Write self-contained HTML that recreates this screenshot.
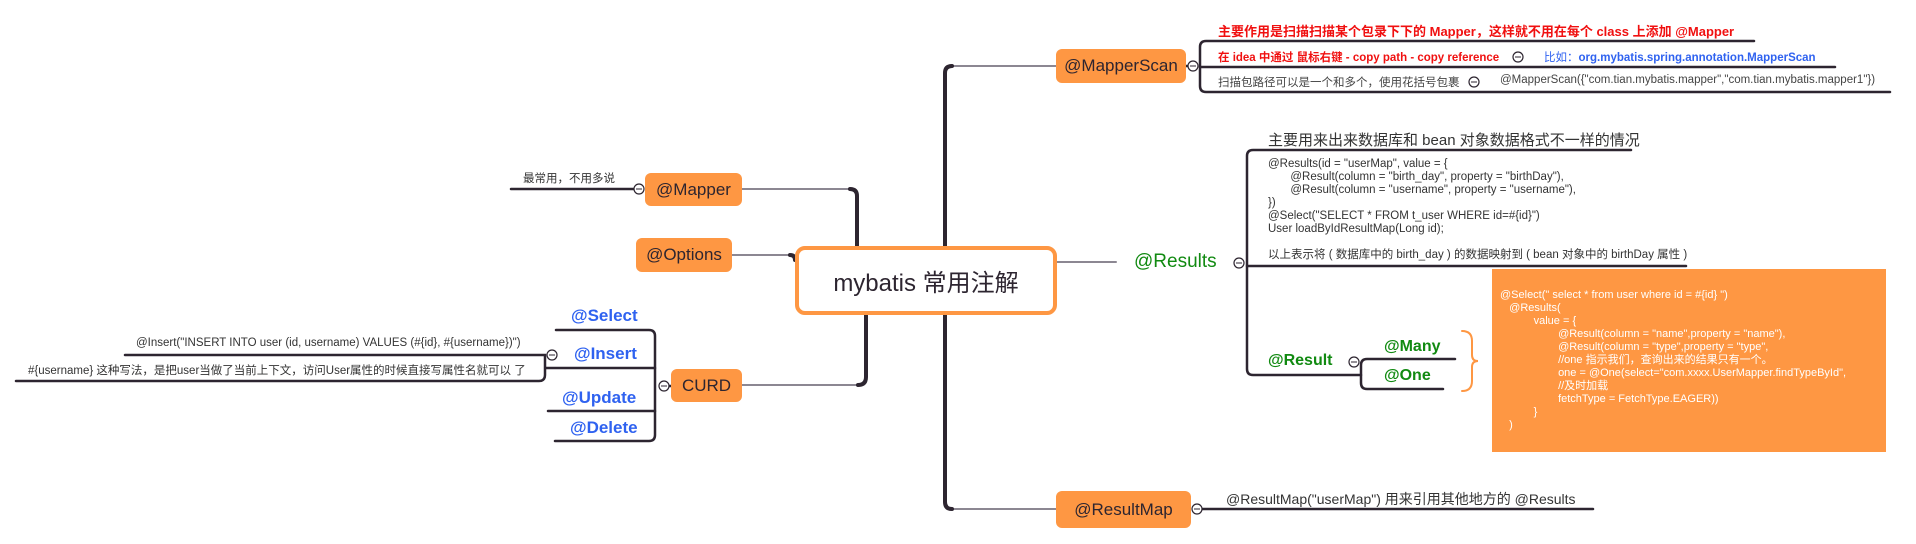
<!DOCTYPE html>
<html><head><meta charset="utf-8"><style>
body{margin:0;width:1916px;height:544px;background:#fff;position:relative;overflow:hidden;font-family:"Liberation Sans","Noto Sans CJK SC",sans-serif;color:#333}
.t{position:absolute;white-space:nowrap}
.box{position:absolute;background:#fe9743;border-radius:6px;color:#2d2530;font-size:17px;display:flex;align-items:center;justify-content:center}
.blue{color:#2f62f0;font-weight:bold;font-size:17px}
.green{color:#118a11;font-weight:bold;font-size:16px}
.code{font-size:11.5px;line-height:13px;color:#333}
.ob{position:absolute;left:1492px;top:269px;width:394px;height:183px;background:#fe9743;color:#fff;font-size:11px;line-height:13px}
</style></head><body>
<svg width="1916" height="544" style="position:absolute;left:0;top:0">
<g fill="none" stroke-linecap="round">
<g stroke="#8c8792" stroke-width="2">
<path d="M1056 66 H952"/><path d="M1056 509 H952"/>
<path d="M742 189 H850"/><path d="M732 255 H790"/><path d="M742 385 H858"/>
<path d="M1057 262 H1116"/>
</g>
<g stroke="#2d2530" stroke-width="4">
<path d="M952 66 Q945 66 945 73 V502 Q945 509 952 509"/>
<path d="M850 189 Q857 189 857 196 V246"/>
<path d="M790 255 Q795 255 795 260"/>
<path d="M858 385 Q866 385 866 377 V315"/>
</g>
<g stroke="#2d2530" stroke-width="2.5">
<path d="M1754 41 H1206 Q1200 41 1200 47 V86 Q1200 92 1206 92 H1890"/>
<path d="M1200 67 H1835"/><path d="M1186 66 H1193"/>
<path d="M1631 150 H1253 Q1247 150 1247 156 V369 Q1247 375 1253 375 H1361"/>
<path d="M1247 266 H1686"/>
<path d="M1455 359 H1367 Q1361 359 1361 365 V383 Q1361 389 1367 389 H1443"/>
<path d="M1197 509 H1593"/>
<path d="M511 189 H636"/>
<path d="M556 330 H649 Q655 330 655 336 V435 Q655 441 649 441 H555"/>
<path d="M546 368 H655"/><path d="M548 411 H655"/><path d="M664 386 H671"/>
<path d="M125 355 H545 V375 Q545 381 539 381 H16"/>
</g>
<path d="M1462 331 Q1472 331 1472 341 V355 Q1472 361 1478 361 Q1472 361 1472 367 V381 Q1472 391 1462 391" stroke="#fe9743" stroke-width="2"/>
</g>
<g fill="#fff" stroke="#2d2530" stroke-width="1.2">
<circle cx="1193" cy="66" r="5"/><circle cx="1518" cy="57" r="5"/><circle cx="1474" cy="82" r="5"/>
<circle cx="1239" cy="263" r="5"/><circle cx="1354" cy="362" r="5"/><circle cx="1197" cy="509" r="5"/>
<circle cx="639" cy="189" r="5"/><circle cx="664" cy="386" r="5"/><circle cx="552" cy="355" r="5"/>
</g>
<g stroke="#2d2530" stroke-width="1">
<path d="M1190 66h6M1515 57h6M1471 82h6M1236 263h6M1351 362h6M1194 509h6M636 189h6M661 386h6M549 355h6"/>
</g>
</svg>

<div style="position:absolute;left:795px;top:246px;width:254px;height:61px;border:4px solid #fe9743;border-radius:10px;background:#fff;display:flex;align-items:center;justify-content:center;font-size:24px;color:#2d2530">mybatis 常用注解</div>

<div class="box" style="left:1056px;top:49px;width:130px;height:34px">@MapperScan</div>
<div class="box" style="left:645px;top:173px;width:97px;height:33px">@Mapper</div>
<div class="box" style="left:636px;top:238px;width:96px;height:34px">@Options</div>
<div class="box" style="left:671px;top:369px;width:71px;height:33px">CURD</div>
<div class="box" style="left:1056px;top:491px;width:135px;height:37px">@ResultMap</div>

<div class="t" style="left:1218px;top:21px;font-size:13px;font-weight:bold;color:#f01010">主要作用是扫描扫描某个包录下下的 Mapper，这样就不用在每个 class 上添加 @Mapper</div>
<div class="t" style="left:1218px;top:49px;font-size:11.5px;font-weight:bold;color:#f01010">在 idea 中通过 鼠标右键 - copy path - copy reference</div>
<div class="t" style="left:1544px;top:49px;font-size:11.5px;font-weight:bold;color:#2f62f0"><span style="font-weight:normal">比如：</span>org.mybatis.spring.annotation.MapperScan</div>
<div class="t" style="left:1218px;top:74px;font-size:11.5px;color:#444">扫描包路径可以是一个和多个，使用花括号包裹</div>
<div class="t" style="left:1500px;top:74px;font-size:11.5px;color:#444">@MapperScan({"com.tian.mybatis.mapper","com.tian.mybatis.mapper1"})</div>

<div class="t" style="left:1134px;top:251px;font-size:19px;color:#118a11">@Results</div>
<div class="t" style="left:1268px;top:129px;font-size:15px;color:#333">主要用来出来数据库和 bean 对象数据格式不一样的情况</div>
<div class="t code" style="left:1268px;top:158px">@Results(id = "userMap", value = {<br>&nbsp;&nbsp;&nbsp;&nbsp;&nbsp;&nbsp;&nbsp;@Result(column = "birth_day", property = "birthDay"),<br>&nbsp;&nbsp;&nbsp;&nbsp;&nbsp;&nbsp;&nbsp;@Result(column = "username", property = "username"),<br>})<br>@Select("SELECT * FROM t_user WHERE id=#{id}")<br>User loadByIdResultMap(Long id);<br><br>以上表示将 ( 数据库中的 birth_day ) 的数据映射到 ( bean 对象中的 birthDay 属性 )</div>

<div class="ob"><div style="position:absolute;left:8px;top:20px;white-space:nowrap">@Select(" select * from user where id = #{id} ")<br>&nbsp;&nbsp;&nbsp;@Results(<br>&nbsp;&nbsp;&nbsp;&nbsp;&nbsp;&nbsp;&nbsp;&nbsp;&nbsp;&nbsp;&nbsp;value = {<br>&nbsp;&nbsp;&nbsp;&nbsp;&nbsp;&nbsp;&nbsp;&nbsp;&nbsp;&nbsp;&nbsp;&nbsp;&nbsp;&nbsp;&nbsp;&nbsp;&nbsp;&nbsp;&nbsp;@Result(column = "name",property = "name"),<br>&nbsp;&nbsp;&nbsp;&nbsp;&nbsp;&nbsp;&nbsp;&nbsp;&nbsp;&nbsp;&nbsp;&nbsp;&nbsp;&nbsp;&nbsp;&nbsp;&nbsp;&nbsp;&nbsp;@Result(column = "type",property = "type",<br>&nbsp;&nbsp;&nbsp;&nbsp;&nbsp;&nbsp;&nbsp;&nbsp;&nbsp;&nbsp;&nbsp;&nbsp;&nbsp;&nbsp;&nbsp;&nbsp;&nbsp;&nbsp;&nbsp;//one 指示我们，查询出来的结果只有一个。<br>&nbsp;&nbsp;&nbsp;&nbsp;&nbsp;&nbsp;&nbsp;&nbsp;&nbsp;&nbsp;&nbsp;&nbsp;&nbsp;&nbsp;&nbsp;&nbsp;&nbsp;&nbsp;&nbsp;one = @One(select="com.xxxx.UserMapper.findTypeById",<br>&nbsp;&nbsp;&nbsp;&nbsp;&nbsp;&nbsp;&nbsp;&nbsp;&nbsp;&nbsp;&nbsp;&nbsp;&nbsp;&nbsp;&nbsp;&nbsp;&nbsp;&nbsp;&nbsp;//及时加载<br>&nbsp;&nbsp;&nbsp;&nbsp;&nbsp;&nbsp;&nbsp;&nbsp;&nbsp;&nbsp;&nbsp;&nbsp;&nbsp;&nbsp;&nbsp;&nbsp;&nbsp;&nbsp;&nbsp;fetchType = FetchType.EAGER))<br>&nbsp;&nbsp;&nbsp;&nbsp;&nbsp;&nbsp;&nbsp;&nbsp;&nbsp;&nbsp;&nbsp;}<br>&nbsp;&nbsp;&nbsp;)</div></div>

<div class="t green" style="left:1268px;top:352px">@Result</div>
<div class="t green" style="left:1384px;top:338px">@Many</div>
<div class="t green" style="left:1384px;top:367px">@One</div>

<div class="t" style="left:1226px;top:489px;font-size:14px;color:#333">@ResultMap("userMap") 用来引用其他地方的 @Results</div>

<div class="t" style="left:523px;top:170px;font-size:11.5px;color:#333">最常用，不用多说</div>
<div class="t blue" style="left:571px;top:306px">@Select</div>
<div class="t blue" style="left:574px;top:344px">@Insert</div>
<div class="t blue" style="left:562px;top:388px">@Update</div>
<div class="t blue" style="left:570px;top:418px">@Delete</div>
<div class="t" style="left:136px;top:337px;font-size:11.5px;color:#333">@Insert("INSERT INTO user (id, username) VALUES (#{id}, #{username})")</div>
<div class="t" style="left:28px;top:362px;font-size:11.5px;color:#333">#{username} 这种写法，是把user当做了当前上下文，访问User属性的时候直接写属性名就可以 了</div>
</body></html>
